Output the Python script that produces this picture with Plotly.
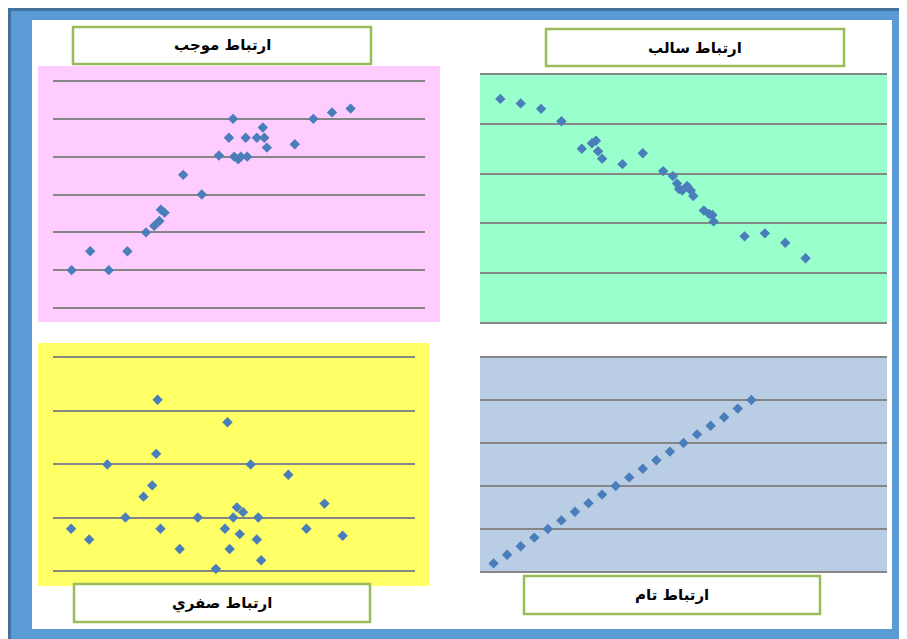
import plotly.graph_objects as go

# the page body adds an 8px margin, so the figure is drawn 8px in from the window edges
OFF = 8
W, H = 907 - OFF, 639 - OFF

# ---------------- data ----------------
pos_x = [5, 10, 15, 20, 25, 27.2, 28.6, 29, 30, 35, 40, 44.6, 47.3, 48.4, 48.7, 49.8, 50.5,
         51.8, 52.2, 54.8, 56.4, 56.8, 57.5, 65, 70, 75, 80]
pos_y = [1.0, 1.5, 1.0, 1.5, 2.0, 2.17, 2.3, 2.6, 2.52, 3.52, 3.0, 4.03, 4.5, 5.0, 4.0, 3.93, 4.0,
         4.5, 4.0, 4.5, 4.77, 4.5, 4.24, 4.33, 5.0, 5.17, 5.27]

neg_x = [5, 10, 15, 20, 25, 27.5, 28.5, 29, 30, 35, 40, 45, 47.4, 48.4, 48.9, 49.7, 50.9,
         51.8, 52.4, 55, 56.3, 57.1, 57.4, 65, 70, 75, 80]
neg_y = [4.5, 4.41, 4.3, 4.05, 3.5, 3.61, 3.66, 3.45, 3.3, 3.19, 3.41, 3.05, 2.95, 2.8, 2.69, 2.66, 2.75,
         2.66, 2.55, 2.26, 2.19, 2.17, 2.04, 1.74, 1.8, 1.61, 1.3]

zero_x = [5, 10, 15, 20, 25, 27.4, 28.5, 28.9, 29.7, 35, 40, 45, 47.5, 48.2, 48.8, 49.8, 50.8,
          51.6, 52.5, 54.6, 56.3, 56.7, 57.5, 65, 70, 75, 80]
zero_y = [0.79, 0.59, 1.99, 1.0, 1.39, 1.6, 2.19, 3.2, 0.79, 0.41, 1.0, 0.04, 0.79, 2.78, 0.41, 1.0, 1.19,
          0.69, 1.1, 1.99, 0.59, 1.0, 0.2, 1.8, 0.79, 1.26, 0.66]

perf_x = [1, 2, 3, 4, 5, 6, 7, 8, 9, 10, 11, 12, 13, 14, 15, 16, 17, 18, 19, 20]
perf_y = [0.2, 0.4, 0.6, 0.8, 1.0, 1.2, 1.4, 1.6, 1.8, 2.0, 2.2, 2.4, 2.6, 2.8, 3.0, 3.2, 3.4,
          3.6, 3.8, 4.0]

titles = ["ارتباط موجب", "ارتباط سالب", "ارتباط صفري", "ارتباط تام"]

# ---------------- helpers (screen px -> paper) ----------------
def fx(p):
    return (p - OFF) / W

def fy(p):
    return 1 - (p - OFF) / H

MARK = dict(symbol="diamond", size=8, color="#4A7EBB")
GRID = "#868686"

fig = go.Figure()

panels = [
    # (x, y, xaxis, yaxis, xdom px, ydom px(top,bottom), xrange, yrange)
    (pos_x, pos_y, "x", "y", (53, 425), (81, 308), [0, 100], [0, 6]),
    (neg_x, neg_y, "x2", "y2", (480, 887), (74, 323), [0, 100], [0, 5]),
    (zero_x, zero_y, "x3", "y3", (53, 415), (357, 571), [0, 100], [0, 4]),
    (perf_x, perf_y, "x4", "y4", (480, 887), (357, 572), [0, 30], [0, 5]),
]

layout_axes = {}
pad_px = 4.0
for i, (xs, ys, xa, ya, xd, yd, xr, yr) in enumerate(panels):
    fig.add_trace(go.Scatter(x=xs, y=ys, mode="markers", marker=MARK,
                             xaxis=xa, yaxis=ya, showlegend=False, hoverinfo="skip"))
    n = "" if i == 0 else str(i + 1)
    unit = (yd[1] - yd[0]) / (yr[1] - yr[0])
    pad = pad_px / unit
    layout_axes["xaxis" + n] = dict(domain=[fx(xd[0]), fx(xd[1])], range=xr,
                                    showgrid=False, zeroline=False, showticklabels=False,
                                    showline=False, ticks="", anchor=ya, fixedrange=True)
    layout_axes["yaxis" + n] = dict(domain=[fy(yd[1] + pad_px), fy(yd[0] - pad_px)],
                                    range=[yr[0] - pad, yr[1] + pad], dtick=1, tick0=0,
                                    showgrid=True, gridcolor=GRID, gridwidth=1.5,
                                    zeroline=True, zerolinecolor=GRID, zerolinewidth=1.5,
                                    showticklabels=False, showline=False, ticks="",
                                    anchor=xa, fixedrange=True)

shapes = []
# outer blue frame
shapes.append(dict(type="rect", xref="paper", yref="paper", x0=fx(8), x1=fx(907), y0=fy(639), y1=fy(8),
                   fillcolor="#5B9BD5", line=dict(width=0), layer="below"))
shapes.append(dict(type="line", xref="paper", yref="paper", x0=fx(8), x1=fx(907), y0=fy(9.5), y1=fy(9.5),
                   line=dict(color="#41719C", width=3), layer="below"))
shapes.append(dict(type="line", xref="paper", yref="paper", x0=fx(9.5), x1=fx(9.5), y0=fy(639), y1=fy(8),
                   line=dict(color="#41719C", width=3), layer="below"))
shapes.append(dict(type="rect", xref="paper", yref="paper", x0=fx(32), x1=fx(892), y0=fy(629), y1=fy(20),
                   fillcolor="white", line=dict(width=0), layer="below"))
# panel backgrounds
for (x0, x1, y0, y1, c) in [(38, 440, 66, 322, "#FFCCFF"), (480, 887, 74, 323, "#99FFCC"),
                            (38, 429, 343, 586, "#FFFF66"), (480, 887, 357, 572, "#B9CDE5")]:
    shapes.append(dict(type="rect", xref="paper", yref="paper", x0=fx(x0), x1=fx(x1), y0=fy(y1), y1=fy(y0),
                       fillcolor=c, line=dict(width=0), layer="below"))

# title boxes
boxes = [(73, 371, 27, 64), (546, 844, 29, 66), (74, 370, 584, 622), (524, 820, 576, 614)]
annotations = []
for (x0, x1, y0, y1), t in zip(boxes, titles):
    shapes.append(dict(type="rect", xref="paper", yref="paper", x0=fx(x0), x1=fx(x1), y0=fy(y1), y1=fy(y0),
                       fillcolor="white", line=dict(color="#9BBB59", width=2.5), layer="above"))
    annotations.append(dict(text="<b>" + t + "</b>", xref="paper", yref="paper",
                            x=fx((x0 + x1) / 2), y=fy((y0 + y1) / 2), showarrow=False,
                            xanchor="center", yanchor="middle",
                            font=dict(family="DejaVu Sans", size=15, color="black")))

fig.update_layout(width=W, height=H, margin=dict(l=0, r=0, t=0, b=0),
                  paper_bgcolor="white", plot_bgcolor="rgba(0,0,0,0)",
                  shapes=shapes, annotations=annotations, showlegend=False,
                  **layout_axes)

fig.write_html("out.html")
